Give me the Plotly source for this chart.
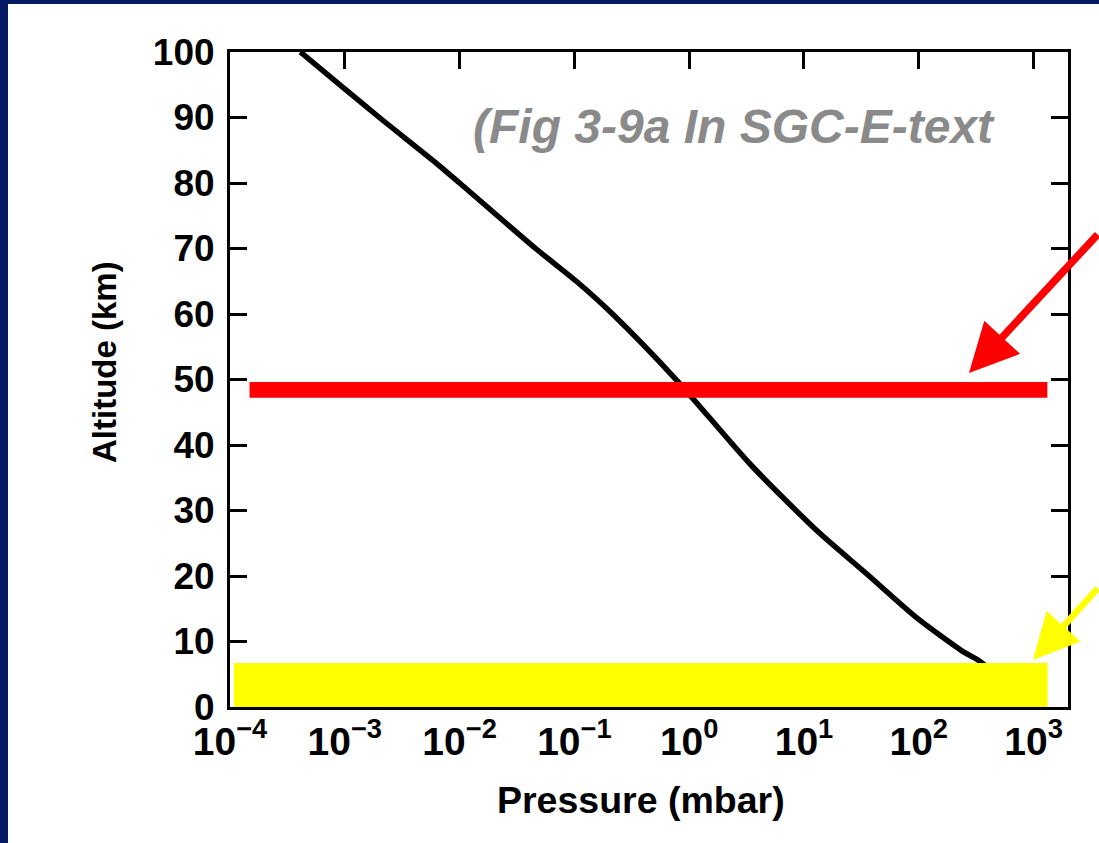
import plotly.graph_objects as go

# ---- data ----
altitude_km = [100, 94.5, 90, 82.9, 80, 70, 65, 60, 49.8, 37.1, 26.9, 20.3, 13.6, 8.5, 7.0, 0]
pressure_mbar = [4.1e-4, 9.8e-4, 2.0e-3, 6.4e-3, 1.0e-2, 0.046, 0.104, 0.215, 0.787,
                 3.39, 13.0, 35.3, 96.2, 241, 339, 1013]

x_tick_vals = [1e-4, 1e-3, 1e-2, 1e-1, 1e0, 1e1, 1e2, 1e3]
x_tick_text = ["10<sup>−4</sup>", "10<sup>−3</sup>", "10<sup>−2</sup>", "10<sup>−1</sup>",
               "10<sup>0</sup>", "10<sup>1</sup>", "10<sup>2</sup>", "10<sup>3</sup>"]
y_tick_vals = [0, 10, 20, 30, 40, 50, 60, 70, 80, 90, 100]

# highlighted bands (pressure extent, altitude extent)
red_band_p = [1.48e-4, 1318]
red_band_km = [47.2, 49.6]
yellow_band_p = [1.08e-4, 1324]
yellow_band_km = [-0.15, 6.7]

# ---- layout geometry ----
FW, FH = 1099, 843
L, R, T, B = 230, 1068, 52, 707
W, H = R - L, B - T


def px_x(px):
    return (px - L) / W


def px_y(py):
    return (B - py) / H


NAVY = "#031B64"
FONT = "Liberation Sans, Arial, sans-serif"

fig = go.Figure()
fig.add_trace(go.Scatter(
    x=pressure_mbar, y=altitude_km, mode="lines",
    line=dict(color="black", width=5.5, shape="spline", smoothing=0.7),
    showlegend=False, hoverinfo="skip"))

axis_common = dict(showline=True, linecolor="black", linewidth=3, mirror="ticks",
                   ticks="inside", ticklen=17, tickwidth=3, tickcolor="black",
                   showgrid=False, zeroline=False)

fig.update_xaxes(type="log", range=[-4.0, 3.3], tickvals=x_tick_vals, ticktext=x_tick_text,
                 tickfont=dict(family=FONT, size=39, color="black", weight="bold"),
                 ticklabelstandoff=-2, **axis_common)
fig.update_yaxes(range=[0, 100], tickvals=y_tick_vals,
                 tickfont=dict(family=FONT, size=37, color="black", weight="bold"),
                 ticklabelstandoff=5, **axis_common)

shapes = [
    # navy slide frame (top and left strips)
    dict(type="rect", xref="paper", yref="paper", x0=px_x(0), x1=px_x(8), y0=px_y(FH), y1=px_y(0),
         fillcolor=NAVY, line=dict(width=0), layer="above"),
    dict(type="rect", xref="paper", yref="paper", x0=px_x(0), x1=px_x(FW), y0=px_y(4), y1=px_y(0),
         fillcolor=NAVY, line=dict(width=0), layer="above"),
    # highlighted bands
    dict(type="rect", xref="x", yref="y", x0=red_band_p[0], x1=red_band_p[1],
         y0=red_band_km[0], y1=red_band_km[1], fillcolor="#FF0000", line=dict(width=0), layer="above"),
    dict(type="rect", xref="x", yref="y", x0=yellow_band_p[0], x1=yellow_band_p[1],
         y0=yellow_band_km[0], y1=yellow_band_km[1], fillcolor="#FFFF00", line=dict(width=0), layer="above"),
]

annotations = [
    dict(text="(Fig 3-9a In SGC-E-text", xref="paper", yref="paper", x=px_x(734), y=px_y(127),
         showarrow=False, xanchor="center", yanchor="middle",
         font=dict(family=FONT, size=48, color="#8A8A8A", weight="bold", style="italic")),
    dict(text="Pressure (mbar)", xref="paper", yref="paper", x=px_x(641), y=px_y(800),
         showarrow=False, xanchor="center", yanchor="middle",
         font=dict(family=FONT, size=37.5, color="black", weight="bold")),
    dict(text="Altitude (km)", xref="paper", yref="paper", x=px_x(104), y=px_y(362),
         showarrow=False, xanchor="center", yanchor="middle", textangle=-90,
         font=dict(family=FONT, size=33, color="black", weight="bold")),
    # red arrow
    dict(text="", xref="paper", yref="paper", x=px_x(969), y=px_y(373), axref="pixel", ayref="pixel",
         ax=145, ay=-140, showarrow=True, arrowhead=2, arrowsize=1.3, arrowwidth=7.5, arrowcolor="#FF0000"),
    # yellow arrow
    dict(text="", xref="paper", yref="paper", x=px_x(1033), y=px_y(660), axref="pixel", ayref="pixel",
         ax=80, ay=-73, showarrow=True, arrowhead=2, arrowsize=1.4, arrowwidth=6.5, arrowcolor="#FFFF00"),
]

fig.update_layout(
    width=FW, height=FH, autosize=False,
    margin=dict(l=L, r=FW - R, t=T, b=FH - B, autoexpand=False),
    paper_bgcolor="white", plot_bgcolor="white",
    shapes=shapes, annotations=annotations, showlegend=False,
)

fig.write_html("out.html", config={"displayModeBar": False},
               post_script="document.body.style.margin='0';document.body.style.overflow='hidden';")
